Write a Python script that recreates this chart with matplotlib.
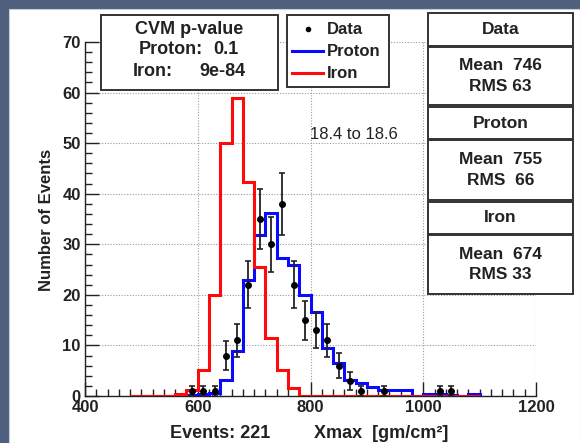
import numpy as np
import matplotlib
matplotlib.use("Agg")
import matplotlib.pyplot as plt
from matplotlib.patches import Rectangle
from matplotlib.lines import Line2D
from matplotlib.ticker import MultipleLocator

plt.rcParams['font.family'] = ['Liberation Sans', 'DejaVu Sans']

# ---------------- data ----------------
bin_edges = np.arange(480, 1101, 20)          # 31 bins of 20 g/cm^2
iron_counts = [0, 0, 0, 0, 0.4, 1.2, 5.1, 20, 50, 59, 42.4, 25.6, 11.5, 5.1, 1.5,
               0, 0, 0, 0, 0, 0, 0, 0, 0, 0, 0, 0, 0, 0, 0, 0]
proton_counts = [0, 0, 0, 0, 0.1, 0.2, 0.4, 0.65, 3.2, 8.8, 22.9, 31.8, 36.1, 27.2,
                 25.9, 20, 16.7, 9.4, 6.5, 3.2, 2.5, 1.8, 1.2, 1.2, 1.2, 0, 0.4,
                 0.4, 0.1, 0, 0.3]
data_x = [590, 610, 630, 650, 670, 690, 710, 730, 750, 770, 790, 810, 830, 850,
          870, 890, 930, 1030, 1050]
data_y = [1, 1, 1, 8, 11, 22, 35, 30, 38, 22, 15, 13, 11, 6, 3, 1, 1, 1, 1]
x_ticks = [400, 600, 800, 1000, 1200]
y_ticks = [0, 10, 20, 30, 40, 50, 60, 70]

cvm_title = "CVM p-value"
cvm_rows = [("Proton:", "0.1"), ("Iron:", "9e-84")]
stats_rows = [("Data", "Mean  746\nRMS 63"),
              ("Proton", "Mean  755\nRMS  66"),
              ("Iron", "Mean  674\nRMS 33")]
energy_label = "18.4 to 18.6"
events_label = "Events: 221"
xlabel = "Xmax  [gm/cm²]"
ylabel = "Number of Events"

# ---------------- figure ----------------
W, H = 580, 443
fig = plt.figure(figsize=(W / 100, H / 100), dpi=100, facecolor='#4e607e')


def fx(px):
    return px / W


def fy(py):
    return 1 - py / H


def fig_rect(x0, y0, x1, y1, **kw):
    r = Rectangle((fx(x0), fy(y1)), fx(x1) - fx(x0), fy(y0) - fy(y1),
                  transform=fig.transFigure, **kw)
    fig.patches.append(r)
    return r


# white panel
fig_rect(9, 9, 580, 443, facecolor='white', edgecolor='#c8ccd4', linewidth=0.8,
         zorder=-5)

ax = fig.add_axes([fx(85), fy(396), fx(536) - fx(85), fy(42) - fy(396)])
ax.set_facecolor('none')
ax.set_xlim(400, 1200)
ax.set_ylim(0, 70)
ax.set_xticks(x_ticks)
ax.set_yticks(y_ticks)
ax.xaxis.set_minor_locator(MultipleLocator(20))
ax.yaxis.set_minor_locator(MultipleLocator(2))
ax.tick_params(which='major', direction='in', length=10, width=1,
               labelsize=12, pad=3, colors='#222222')
ax.tick_params(which='minor', direction='in', length=5, width=1, colors='#222222')
for lab in ax.get_xticklabels() + ax.get_yticklabels():
    lab.set_fontweight('bold')
for s in ['top', 'right']:
    ax.spines[s].set_visible(False)
for s in ['left', 'bottom']:
    ax.spines[s].set_color('#222222')
    ax.spines[s].set_linewidth(1.0)
ax.grid(True, which='major', color='#9a9a9a', linestyle=(0, (1, 1.5)),
        linewidth=0.8)
ax.set_axisbelow(True)

ax.stairs(proton_counts, bin_edges, color='#0a0aff', linewidth=2.2, zorder=3)
ax.stairs(iron_counts, bin_edges, color='#ff0a0a', linewidth=2.2, zorder=3.5)
ax.errorbar(data_x, data_y, yerr=np.sqrt(data_y), fmt='o', color='black',
            ecolor='#222222', ms=4, capsize=2.2, elinewidth=1.3, capthick=1.2,
            zorder=4)

ax.text(800, 51.8, energy_label, fontsize=12, ha='left', va='center',
        color='#222222')

# axis titles
fig.text(fx(47), fy(220), ylabel, rotation=90, ha='center', va='center',
         fontsize=12, fontweight='bold', color='#222222')
fig.text(fx(220), fy(434), events_label, ha='center', va='center',
         fontsize=13, fontweight='bold', color='#222222')
fig.text(fx(381), fy(434), xlabel, ha='center', va='center',
         fontsize=13, fontweight='bold', color='#222222')

box_kw = dict(facecolor='white', edgecolor='#333333', linewidth=1.4, zorder=10)
txt_kw = dict(fontweight='bold', color='#222222', zorder=11)

# CVM box
fig_rect(101, 15, 278, 90, **box_kw)
fig.text(fx(189), fy(29), cvm_title, ha='center', va='center', fontsize=13,
         **txt_kw)
fig.text(fx(139), fy(50), cvm_rows[0][0], ha='left', va='center', fontsize=13,
         **txt_kw)
fig.text(fx(239), fy(50), cvm_rows[0][1], ha='right', va='center', fontsize=13,
         **txt_kw)
fig.text(fx(133), fy(71), cvm_rows[1][0], ha='left', va='center', fontsize=13,
         **txt_kw)
fig.text(fx(245), fy(71), cvm_rows[1][1], ha='right', va='center', fontsize=13,
         **txt_kw)

# legend box
fig_rect(287, 15, 389, 87, **box_kw)
fig.lines.append(Line2D([fx(308)], [fy(29)], marker='o', ms=3, color='black',
                        linestyle='none', transform=fig.transFigure, zorder=11))
fig.lines.append(Line2D([fx(292), fx(323)], [fy(51), fy(51)], color='#0a0aff',
                        linewidth=2.2, transform=fig.transFigure, zorder=11))
fig.lines.append(Line2D([fx(292), fx(323)], [fy(73), fy(73)], color='#ff0a0a',
                        linewidth=2.2, transform=fig.transFigure, zorder=11))
for yy, t in [(29, "Data"), (51, "Proton"), (73, "Iron")]:
    fig.text(fx(327), fy(yy), t, ha='left', va='center', fontsize=12, **txt_kw)

# stats boxes
sections = [(13, 46, 47, 105), (107, 139, 140, 200), (202, 234, 235, 294)]
for (h0, h1, b0, b1), (head, body) in zip(sections, stats_rows):
    fig_rect(428, h0, 573, h1, **box_kw)
    fig_rect(428, b0, 573, b1, **box_kw)
    fig.text(fx(500.5), fy((h0 + h1) / 2), head, ha='center', va='center',
             fontsize=12.5, **txt_kw)
    fig.text(fx(500.5), fy((b0 + b1) / 2), body, ha='center', va='center',
             fontsize=12.5, linespacing=1.45, **txt_kw)

fig.savefig("out.png", dpi=100, facecolor=fig.get_facecolor())
